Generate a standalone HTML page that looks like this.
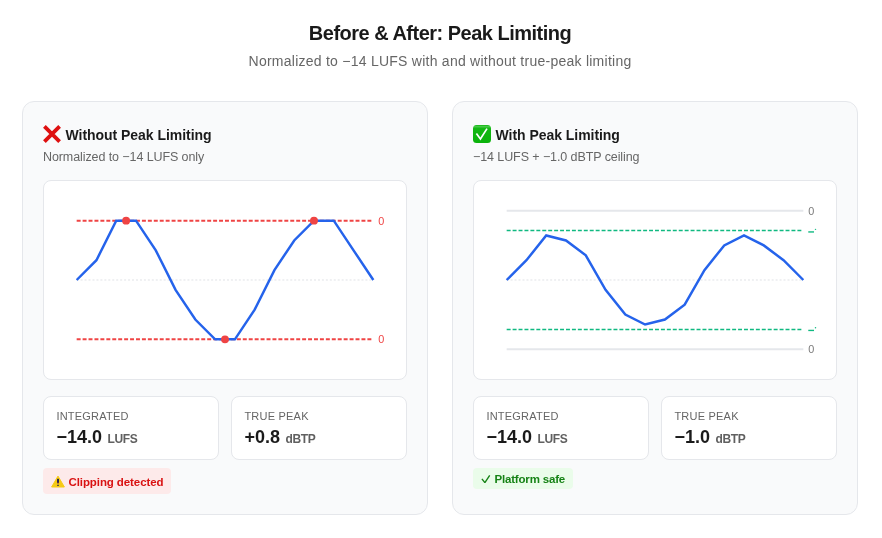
<!DOCTYPE html>
<html lang="en">
<head>
<meta charset="utf-8">
<title>Before &amp; After: Peak Limiting</title>
<style>
*{box-sizing:border-box;margin:0;padding:0}
html,body{width:882px;height:538px;background:#fff;overflow:hidden}
body{font-family:"Liberation Sans",sans-serif;color:#1a1a1a;position:relative}
h1{position:absolute;left:0;width:880px;top:21px;text-align:center;font-size:20px;line-height:24px;font-weight:700;color:#1a1a1a;letter-spacing:-0.51px}
.sub{position:absolute;left:0;width:880px;top:52px;text-align:center;font-size:14px;line-height:18px;color:#666;letter-spacing:0.25px}
.card{position:absolute;top:101px;width:406px;height:414px;background:#f9fafb;border:1px solid #e5e7eb;border-radius:12px}
.c1{left:22px}.c2{left:452px}
.ttl{position:absolute;left:20px;top:22px;height:22px;font-size:14px;line-height:22px;font-weight:700;color:#1a1a1a;white-space:nowrap;letter-spacing:-0.04px}
.ttl svg{position:absolute;left:0;top:1px}
.ttl span{position:absolute;left:22.5px;top:0}
.desc{position:absolute;left:20px;top:46px;font-size:12.5px;line-height:18px;color:#666;white-space:nowrap;letter-spacing:-0.09px}
.chart{position:absolute;left:20px;top:78px;width:364px;height:200px;background:#fff;border:1px solid #e5e7eb;border-radius:8px;overflow:hidden}
.chart svg{position:absolute;left:3px;top:10px;width:356px;height:178px}
.stat{position:absolute;top:294px;width:176px;height:64px;background:#fff;border:1px solid #e5e7eb;border-radius:8px}
.s1{left:20px}.s2{left:208px}
.lab{position:absolute;left:12.4px;top:12px;font-size:11px;line-height:14px;color:#666;letter-spacing:0.22px;white-space:nowrap}
.val{position:absolute;left:12.4px;top:28px;font-size:18px;line-height:24px;font-weight:700;color:#1a1a1a;white-space:nowrap}
.val small{font-size:12px;font-weight:700;color:#606060;letter-spacing:-0.35px;margin-left:0.6px}
.badge{position:absolute;left:20px;top:366px;border-radius:4px;font-size:11.5px;font-weight:700;white-space:nowrap}
.bad{width:128px;height:26px;background:#fdeaea;color:#d91212}
.good{width:100px;height:20.5px;background:#eafcea;color:#168316}
.badge span{position:absolute;top:0}
</style>
</head>
<body><div id="wrap" style="position:absolute;left:0;top:0;width:882px;height:538px;will-change:transform">
<h1>Before &amp; After: Peak Limiting</h1>
<div class="sub">Normalized to &minus;14 LUFS with and without true-peak limiting</div>

<div class="card c1">
  <div class="ttl">
    <svg width="18" height="18" viewBox="0 0 18 18"><path d="M1.4 1.4 L16.6 16.6 M16.6 1.4 L1.4 16.6" stroke="#de1010" stroke-width="3.8" fill="none"/></svg>
    <span>Without Peak Limiting</span>
  </div>
  <div class="desc">Normalized to &minus;14 LUFS only</div>
  <div class="chart">
    <svg viewBox="0 0 360 180">
      <line x1="30" y1="90" x2="330" y2="90" stroke="#e0e2e6" stroke-width="1" stroke-dasharray="2 2"/>
      <line x1="30" y1="30" x2="330" y2="30" stroke="#ef4444" stroke-width="2" stroke-dasharray="4 2"/>
      <line x1="30" y1="150" x2="330" y2="150" stroke="#ef4444" stroke-width="2" stroke-dasharray="4 2"/>
      <polyline fill="none" stroke="#2563eb" stroke-width="2.5" points="30,90 50,70 70,30 90,30 110,60 130,100 150,130 170,150 190,150 210,120 230,80 250,50 270,30 290,30 310,60 330,90"/>
      <circle cx="80" cy="30" r="4" fill="#ef4444"/>
      <circle cx="180" cy="150" r="4" fill="#ef4444"/>
      <circle cx="270" cy="30" r="4" fill="#ef4444"/>
      <text x="335" y="34" font-size="11" fill="#ef4444" font-family="Liberation Sans, sans-serif">0</text>
      <text x="335" y="154" font-size="11" fill="#ef4444" font-family="Liberation Sans, sans-serif">0</text>
    </svg>
  </div>
  <div class="stat s1"><div class="lab">INTEGRATED</div><div class="val">&minus;14.0 <small>LUFS</small></div></div>
  <div class="stat s2"><div class="lab">TRUE PEAK</div><div class="val">+0.8 <small>dBTP</small></div></div>
  <div class="badge bad">
    <svg style="position:absolute;left:8.1px;top:7.4px" width="14" height="13" viewBox="0 0 14 13"><path d="M7 1.1 L13.4 12 L0.6 12 Z" fill="#f6ca15" stroke="#f6ca15" stroke-width="1" stroke-linejoin="round"/><rect x="6" y="3.7" width="2" height="4.5" rx="0.5" fill="#26254f"/><rect x="6.1" y="7.6" width="1.8" height="0.6" fill="#b03058"/><rect x="6" y="9.7" width="2" height="1.1" rx="0.4" fill="#26254f"/></svg>
    <span style="left:25.5px;top:1px;line-height:26px;letter-spacing:-0.09px">Clipping detected</span>
  </div>
</div>

<div class="card c2">
  <div class="ttl">
    <svg width="18" height="18" viewBox="0 0 18 18"><defs><linearGradient id="gg" x1="0" y1="0" x2="0" y2="1"><stop offset="0" stop-color="#0db40d"/><stop offset="0.08" stop-color="#47c947"/><stop offset="0.2" stop-color="#12b712"/><stop offset="1" stop-color="#0bb30b"/></linearGradient></defs><rect x="0" y="0" width="18" height="18" rx="3.5" fill="url(#gg)"/><path d="M3.4 8.6 L7.4 14 L14 3.6" stroke="#fff" stroke-width="1.7" fill="none"/></svg>
    <span>With Peak Limiting</span>
  </div>
  <div class="desc">&minus;14 LUFS + &minus;1.0 dBTP ceiling</div>
  <div class="chart">
    <svg viewBox="0 0 360 180">
      <line x1="30" y1="90" x2="330" y2="90" stroke="#e0e2e6" stroke-width="1" stroke-dasharray="2 2"/>
      <line x1="30" y1="20" x2="330" y2="20" stroke="#e5e7eb" stroke-width="2"/>
      <line x1="30" y1="160" x2="330" y2="160" stroke="#e5e7eb" stroke-width="2"/>
      <line x1="30" y1="40" x2="330" y2="40" stroke="#10b981" stroke-width="1.5" stroke-dasharray="4 2"/>
      <line x1="30" y1="140" x2="330" y2="140" stroke="#10b981" stroke-width="1.5" stroke-dasharray="4 2"/>
      <polyline fill="none" stroke="#2563eb" stroke-width="2.5" points="30,90 50,70 70,45 90,50 110,65 130,100 150,125 170,135 190,130 210,115 230,80 250,55 270,45 290,55 310,70 330,90"/>
      <text x="335" y="24" font-size="11" fill="#7a7a7a" font-family="Liberation Sans, sans-serif">0</text>
      <text x="335" y="164" font-size="11" fill="#7a7a7a" font-family="Liberation Sans, sans-serif">0</text>
      <rect x="335" y="40.7" width="5.8" height="1.4" fill="#10b981"/><circle cx="342.3" cy="38.8" r="0.75" fill="#10b981"/>
      <rect x="335" y="140.3" width="5.8" height="1.4" fill="#10b981"/><circle cx="342.3" cy="138.2" r="0.75" fill="#10b981"/>
    </svg>
  </div>
  <div class="stat s1"><div class="lab">INTEGRATED</div><div class="val">&minus;14.0 <small>LUFS</small></div></div>
  <div class="stat s2"><div class="lab">TRUE PEAK</div><div class="val">&minus;1.0 <small>dBTP</small></div></div>
  <div class="badge good">
    <svg style="position:absolute;left:8px;top:5px" width="10" height="10" viewBox="0 0 10 10"><path d="M0.9 5.9 L3.9 9.6 L8.7 2.4" stroke="#168316" stroke-width="1.4" fill="none"/></svg>
    <span style="left:21.5px;top:1px;line-height:20px;letter-spacing:-0.18px">Platform safe</span>
  </div>
</div>
</div></body>
</html>
